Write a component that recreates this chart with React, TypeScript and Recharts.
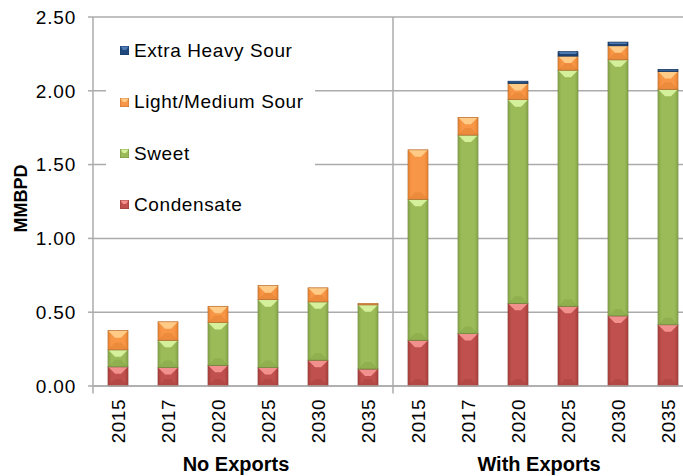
import React from "react"
import {
  BarChart,
  Bar,
  XAxis,
  YAxis,
  CartesianGrid,
  ReferenceLine,
} from "recharts"

// categories: two scenarios x six years
const scenarios = ["No Exports", "With Exports"]
const years = ["2015", "2017", "2020", "2025", "2030", "2035"]

// MMBPD (No Exports first, then With Exports)
const condensate = [0.13, 0.125, 0.14, 0.125, 0.175, 0.115, 0.31, 0.355, 0.56, 0.54, 0.475, 0.415]
const sweet = [0.115, 0.185, 0.29, 0.46, 0.395, 0.435, 0.955, 1.345, 1.38, 1.6, 1.735, 1.595]
const lightMediumSour = [0.13, 0.125, 0.11, 0.095, 0.095, 0.01, 0.335, 0.12, 0.11, 0.095, 0.095, 0.12]
const extraHeavySour = [0, 0, 0, 0, 0, 0, 0, 0, 0.015, 0.03, 0.025, 0.015]

const yTicks = [0, 0.5, 1, 1.5, 2, 2.5]

type Pal = { base: string; top: string; side: string; bottom: string; stroke: string }

const PAL: Record<string, Pal> = {
  condensate: { base: "#C0504D", top: "#F2908D", side: "#B24643", bottom: "#9A3A37", stroke: "#8C3836" },
  sweet: { base: "#9BBB59", top: "#D5F09A", side: "#8FAE4F", bottom: "#7A9A3C", stroke: "#71893F" },
  lms: { base: "#F79646", top: "#FFCB86", side: "#EE8A38", bottom: "#D8782C", stroke: "#B66D31" },
  ehs: { base: "#1F497D", top: "#4F7BB5", side: "#1B4170", bottom: "#16365E", stroke: "#17375E" },
}

const series = [
  { key: "condensate", name: "Condensate", pal: PAL.condensate },
  { key: "sweet", name: "Sweet", pal: PAL.sweet },
  { key: "lms", name: "Light/Medium Sour", pal: PAL.lms },
  { key: "ehs", name: "Extra Heavy Sour", pal: PAL.ehs },
]

const data = scenarios.flatMap((s, si) =>
  years.map((yr, yi) => {
    const i = si * years.length + yi
    return {
      id: `${s}-${yr}`,
      year: yr,
      pos: i + 0.5,
      condensate: condensate[i],
      sweet: sweet[i],
      lms: lightMediumSour[i],
      ehs: extraHeavySour[i],
    }
  })
)

const GRID = "#ABABAB"
const FONT = '"Liberation Sans", Arial, sans-serif'

// excel-ish bevel look
function BevelBar(props: any) {
  const { x, y, width: w, height: h, pal } = props
  if (!h || h < 0.5) return null
  const d = Math.min(7, h / 2)
  const s = Math.min(2.5, h / 2)
  return (
    <g>
      <rect x={x} y={y} width={w} height={h} fill={pal.base} />
      <rect x={x} y={y} width={s} height={h} fill={pal.side} />
      <rect x={x + w - s} y={y} width={s} height={h} fill={pal.side} />
      <polygon points={`${x},${y + h} ${x + w},${y + h} ${x + w - d},${y + h - d} ${x + d},${y + h - d}`} fill={pal.bottom} opacity={0.35} />
      <polygon points={`${x},${y} ${x + w},${y} ${x + w - d},${y + d} ${x + d},${y + d}`} fill={pal.top} />
      <rect x={x} y={y} width={w} height={h} fill="none" stroke={pal.stroke} strokeWidth={0.7} />
    </g>
  )
}

function YearTick({ x, y, payload }: any) {
  const yr = data[payload.index]?.year ?? payload.value
  const ty = y + 13
  return (
    <text
      x={x}
      y={ty}
      transform={`rotate(-90, ${x}, ${ty})`}
      textAnchor="end"
      dominantBaseline="central"
      fontSize={19}
      fontFamily={FONT}
      letterSpacing={0.5}
      fill="#000"
    >
      {yr}
    </text>
  )
}

function AxisTitle({ viewBox }: any) {
  const cx = viewBox.x + 21
  const cy = viewBox.y + viewBox.height / 2 - 3
  return (
    <text
      x={cx}
      y={cy}
      transform={`rotate(-90, ${cx}, ${cy})`}
      textAnchor="middle"
      dominantBaseline="central"
      fontSize={18}
      fontFamily={FONT}
      fontWeight="bold"
      fill="#000"
    >
      MMBPD
    </text>
  )
}

function LegendMark({ pal }: { pal: Pal }) {
  return (
    <svg width={9} height={9} style={{ display: "block" }}>
      <rect x={0} y={0} width={9} height={9} fill={pal.base} stroke={pal.stroke} strokeWidth={0.8} />
      <polygon points="0.5,0.5 8.5,0.5 6,4 3,4" fill={pal.top} />
    </svg>
  )
}

export default function App() {
  const legendRows = [...series].reverse()
  const rowY = [50.5, 102, 153.5, 204.5]
  const groupCenter = [236, 539]

  return (
    <div
      style={{
        position: "absolute",
        left: 0,
        top: 0,
        width: 683,
        height: 476,
        overflow: "hidden",
        background: "#fff",
        fontFamily: FONT,
      }}
    >
      <BarChart
        width={700}
        height={476}
        data={data}
        margin={{ top: 17, right: 7, left: 0, bottom: 0 }}
        barSize={20}
        style={{ fontFamily: FONT }}
      >
        <CartesianGrid vertical={false} stroke={GRID} strokeWidth={1.5} />
        <XAxis
          dataKey="id"
          height={90}
          interval={0}
          tickLine={false}
          tickSize={0}
          tickMargin={0}
          axisLine={{ stroke: GRID, strokeWidth: 1.5 }}
          tick={<YearTick />}
        />
        <XAxis
          xAxisId="grp"
          dataKey="pos"
          type="number"
          domain={[0, 12]}
          allowDataOverflow
          hide
        />
        <YAxis
          domain={[0, 2.5]}
          ticks={yTicks}
          width={93}
          tickSize={5}
          tickMargin={12}
          tickFormatter={(v: number) => v.toFixed(2)}
          tick={{ fill: "#000", fontSize: 19, fontFamily: FONT, letterSpacing: 0.8 }}
          axisLine={{ stroke: GRID, strokeWidth: 1.5 }}
          tickLine={{ stroke: GRID, strokeWidth: 1.5 }}
          label={{ content: (p: any) => <AxisTitle {...p} /> }}
        />

        {series.map((s) => (
          <Bar
            key={s.key}
            dataKey={s.key}
            name={s.name}
            stackId="a"
            fill={s.pal.base}
            isAnimationActive={false}
            shape={(p: any) => <BevelBar {...p} pal={s.pal} />}
          />
        ))}

        {/* scenario divider + group ticks */}
        <ReferenceLine
          xAxisId="grp"
          segment={[{ x: 6, y: -0.05 }, { x: 6, y: 2.5 }]}
          stroke={GRID}
          strokeWidth={1.5}
          ifOverflow="visible"
        />
        <ReferenceLine
          xAxisId="grp"
          segment={[{ x: 0, y: -0.05 }, { x: 0, y: 0 }]}
          stroke={GRID}
          strokeWidth={1.5}
          ifOverflow="visible"
        />
        <ReferenceLine
          xAxisId="grp"
          segment={[{ x: 12, y: -0.05 }, { x: 12, y: 0 }]}
          stroke={GRID}
          strokeWidth={1.5}
          ifOverflow="visible"
        />
      </BarChart>

      {/* legend box, sits over the gridlines */}
      <div
        style={{
          position: "absolute",
          left: 106,
          top: 26,
          width: 209,
          height: 202,
          background: "#fff",
        }}
      />
      {legendRows.map((s, i) => (
        <div
          key={s.key}
          style={{
            position: "absolute",
            left: 120,
            top: rowY[i] - 12,
            height: 24,
            display: "flex",
            alignItems: "center",
            fontSize: 19,
            letterSpacing: 0.6,
            color: "#000",
            whiteSpace: "nowrap",
          }}
        >
          <LegendMark pal={s.pal} />
          <span style={{ marginLeft: 5 }}>{s.name}</span>
        </div>
      ))}

      {/* scenario labels */}
      {scenarios.map((s, i) => (
        <div
          key={s}
          style={{
            position: "absolute",
            left: groupCenter[i] - 100,
            width: 200,
            top: 452,
            textAlign: "center",
            fontSize: 20,
            fontWeight: "bold",
            color: "#000",
            lineHeight: "24px",
          }}
        >
          {s}
        </div>
      ))}
    </div>
  )
}
